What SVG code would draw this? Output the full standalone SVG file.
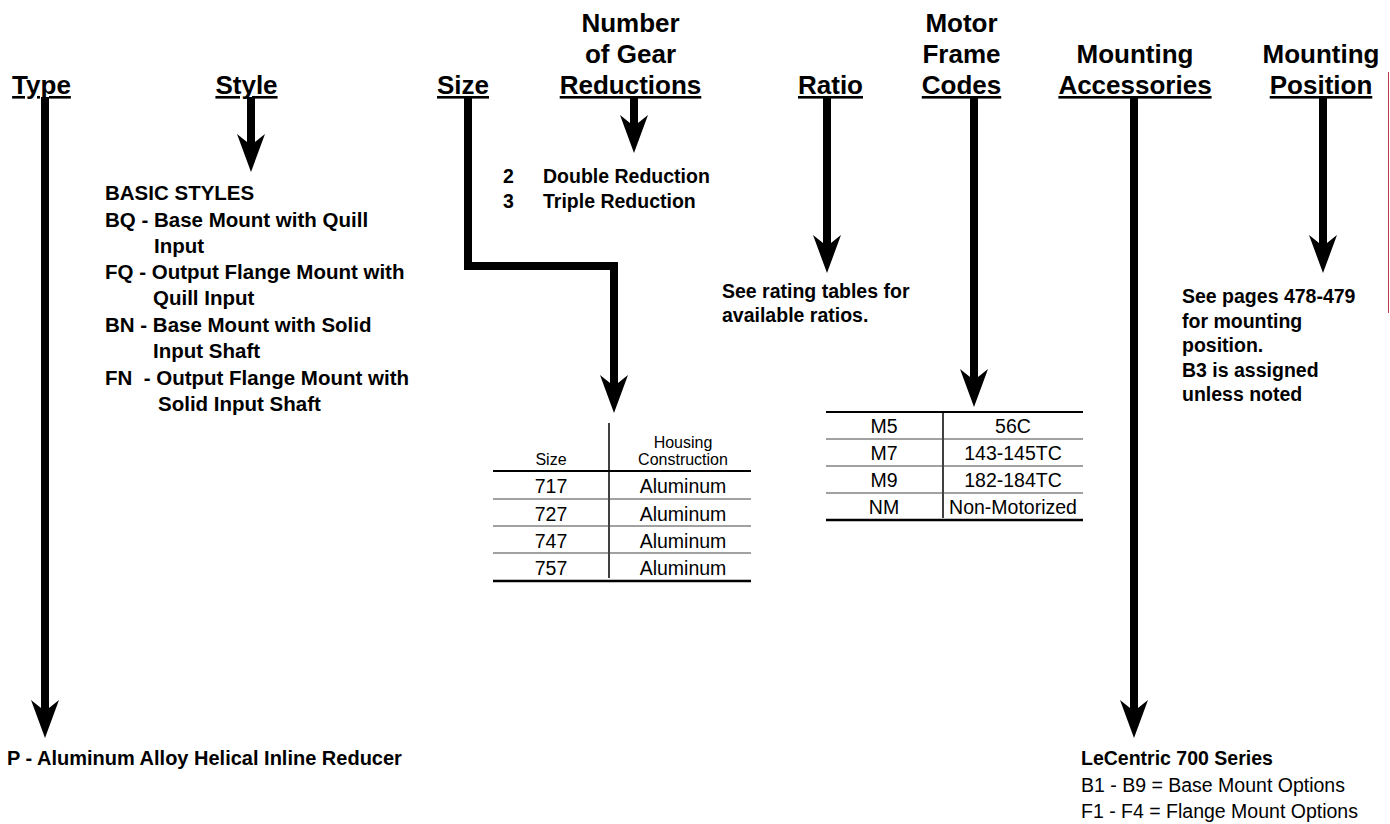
<svg xmlns="http://www.w3.org/2000/svg" width="1390" height="824" viewBox="0 0 1390 824">
<style>
text{font-family:"Liberation Sans",Arial,Helvetica,sans-serif;fill:#000}
.h{font-size:26px;font-weight:bold;text-anchor:middle}
.u{text-decoration:underline}
.b{font-size:20px;font-weight:bold}
.s{font-size:20.5px;font-weight:bold}
.n{font-size:19.5px;font-weight:bold}
.r{font-size:19.5px}
.th{font-size:16px;text-anchor:middle}
.c{text-anchor:middle}
.sh{fill:none;stroke:#000;stroke-width:8;stroke-linejoin:miter;marker-end:url(#ah)}
.t1{stroke:#000;stroke-width:2}
.t2{stroke:#444;stroke-width:1.2}
.t3{stroke:#000;stroke-width:2.5}
.v{stroke:#000;stroke-width:1.5}
</style>
<defs>
<marker id="ah" markerUnits="userSpaceOnUse" markerWidth="60" markerHeight="40" refX="0" refY="0" orient="auto" overflow="visible">
<path d="M25,0 L-13,-14 L-5,-4 L-5,4 L-13,14 Z" fill="#000"/>
</marker>
</defs>

<g id="connectors">
<path class="sh" d="M45,97 V713"/>
<path class="sh" d="M251,97 V147"/>
<path class="sh" d="M468,97 V266 H614 V388"/>
<path class="sh" d="M634,97 V128"/>
<path class="sh" d="M827,97 V248"/>
<path class="sh" d="M974,97 V382"/>
<path class="sh" d="M1134,97 V713"/>
<path class="sh" d="M1323,97 V248"/>
</g>

<g id="type">
<text class="h u" x="41.5" y="94">Type</text>
<text class="b" x="7" y="765">P - Aluminum Alloy Helical Inline Reducer</text>
</g>

<g id="style">
<text class="h u" x="246.5" y="94">Style</text>
<text class="s" x="105" y="200">BASIC STYLES</text>
<text class="s" x="105" y="227">BQ - Base Mount with Quill</text>
<text class="s" x="154" y="253">Input</text>
<text class="s" x="105" y="279">FQ - Output Flange Mount with</text>
<text class="s" x="153" y="305">Quill Input</text>
<text class="s" x="105" y="332">BN - Base Mount with Solid</text>
<text class="s" x="153" y="358">Input Shaft</text>
<text class="s" x="105" y="385" style="white-space:pre">FN  - Output Flange Mount with</text>
<text class="s" x="158" y="411">Solid Input Shaft</text>
</g>

<g id="size">
<text class="h u" x="463" y="94">Size</text>
<line class="v" x1="609" y1="423" x2="609" y2="578"/>
<text class="th" x="551" y="465">Size</text>
<text class="th" x="683" y="448">Housing</text>
<text class="th" x="683" y="465">Construction</text>
<line class="t1" x1="493" y1="471" x2="751" y2="471"/>
<line class="t2" x1="493" y1="499" x2="751" y2="499"/>
<line class="t2" x1="493" y1="526" x2="751" y2="526"/>
<line class="t2" x1="493" y1="553" x2="751" y2="553"/>
<line class="t3" x1="493" y1="581" x2="751" y2="581"/>
<text class="r c" x="551" y="493">717</text>
<text class="r c" x="683" y="493">Aluminum</text>
<text class="r c" x="551" y="521">727</text>
<text class="r c" x="683" y="521">Aluminum</text>
<text class="r c" x="551" y="548">747</text>
<text class="r c" x="683" y="548">Aluminum</text>
<text class="r c" x="551" y="575">757</text>
<text class="r c" x="683" y="575">Aluminum</text>
</g>

<g id="reductions">
<text class="h" x="630.5" y="32">Number</text>
<text class="h" x="630.5" y="63">of Gear</text>
<text class="h u" x="630.5" y="94">Reductions</text>
<text class="n" x="503" y="183">2</text>
<text class="n" x="543" y="183">Double Reduction</text>
<text class="n" x="503" y="208">3</text>
<text class="n" x="543" y="208">Triple Reduction</text>
</g>

<g id="ratio">
<text class="h u" x="830.5" y="94">Ratio</text>
<text class="n" x="722" y="298">See rating tables for</text>
<text class="n" x="722" y="322">available ratios.</text>
</g>

<g id="motor">
<text class="h" x="961.5" y="32">Motor</text>
<text class="h" x="961.5" y="63">Frame</text>
<text class="h u" x="961.5" y="94">Codes</text>
<line class="v" x1="943" y1="412" x2="943" y2="518"/>
<line class="t1" x1="826" y1="412" x2="1083" y2="412"/>
<line class="t2" x1="826" y1="439" x2="1083" y2="439"/>
<line class="t2" x1="826" y1="466" x2="1083" y2="466"/>
<line class="t2" x1="826" y1="493" x2="1083" y2="493"/>
<line class="t3" x1="826" y1="520" x2="1083" y2="520"/>
<text class="r c" x="884" y="433">M5</text>
<text class="r c" x="1013" y="433">56C</text>
<text class="r c" x="884" y="460">M7</text>
<text class="r c" x="1013" y="460">143-145TC</text>
<text class="r c" x="884" y="487">M9</text>
<text class="r c" x="1013" y="487">182-184TC</text>
<text class="r c" x="884" y="514">NM</text>
<text class="r c" x="1013" y="514">Non-Motorized</text>
</g>

<g id="accessories">
<text class="h" x="1135" y="63">Mounting</text>
<text class="h u" x="1135" y="94">Accessories</text>
<text class="n" x="1081" y="765">LeCentric 700 Series</text>
<text class="r" x="1081" y="792">B1 - B9 = Base Mount Options</text>
<text class="r" x="1081" y="818">F1 - F4 = Flange Mount Options</text>
</g>

<g id="position">
<text class="h" x="1321" y="63">Mounting</text>
<text class="h u" x="1321" y="94">Position</text>
<text class="n" x="1182" y="303">See pages 478-479</text>
<text class="n" x="1182" y="328">for mounting</text>
<text class="n" x="1182" y="352">position.</text>
<text class="n" x="1182" y="377">B3 is assigned</text>
<text class="n" x="1182" y="401">unless noted</text>
</g>

<line x1="1388.5" y1="72" x2="1388.5" y2="313" stroke="#c0394f" stroke-width="1"/>
</svg>
